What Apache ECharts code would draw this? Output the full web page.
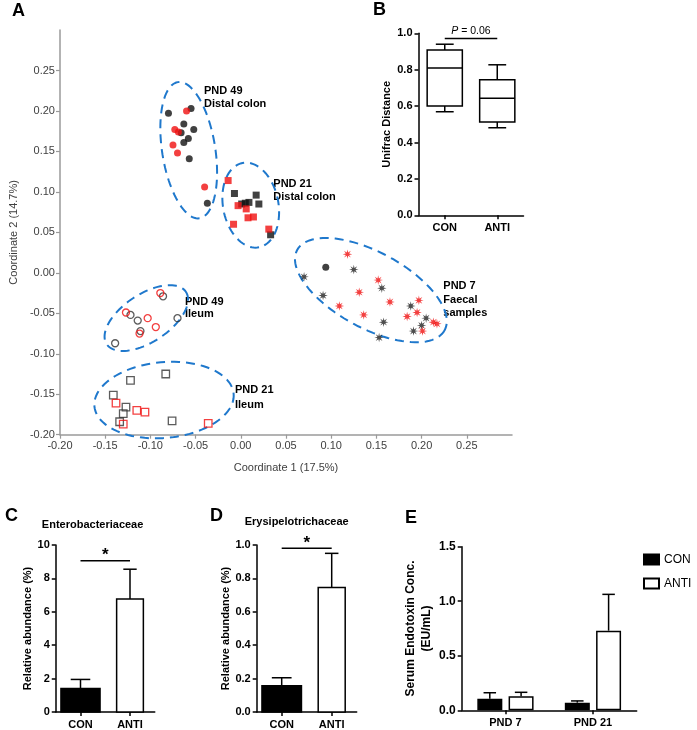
<!DOCTYPE html>
<html><head><meta charset="utf-8">
<script src="https://cdn.jsdelivr.net/npm/echarts@6/dist/echarts.min.js"></script>
<style>html,body{margin:0;padding:0;background:#fff}#c{width:697px;height:730px}</style>
</head><body><div id="c"></div>
<script>
// ---------- Panel A: PCoA coordinates [coord1, coord2] ----------
const pnd49ColonCon = [[-0.080,0.197],[-0.055,0.203],[-0.063,0.184],[-0.052,0.177],[-0.066,0.173],[-0.063,0.161],[-0.058,0.166],[-0.057,0.141],[-0.037,0.086]];
const pnd49ColonAnti = [[-0.060,0.200],[-0.073,0.177],[-0.069,0.174],[-0.075,0.158],[-0.070,0.148],[-0.040,0.106]];
const pnd21ColonCon = [[-0.007,0.098],[0.001,0.085],[0.005,0.086],[0.009,0.087],[0.017,0.096],[0.020,0.085],[0.033,0.047]];
const pnd21ColonAnti = [[-0.014,0.114],[-0.003,0.083],[0.006,0.079],[0.008,0.068],[0.014,0.069],[-0.008,0.060],[0.031,0.054]];
const pnd7Con = [[0.070,-0.005],[0.125,0.004],[0.156,-0.019],[0.091,-0.028],[0.158,-0.061],[0.188,-0.041],[0.205,-0.056],[0.200,-0.065],[0.191,-0.072],[0.153,-0.080]];
const pnd7ConDot = [[0.094,0.007]];
const pnd7Anti = [[0.118,0.023],[0.152,-0.009],[0.131,-0.024],[0.165,-0.036],[0.109,-0.041],[0.136,-0.052],[0.197,-0.034],[0.195,-0.049],[0.184,-0.054],[0.213,-0.061],[0.217,-0.063],[0.201,-0.072]];
const pnd49IleumCon = [[-0.086,-0.029],[-0.122,-0.052],[-0.114,-0.059],[-0.111,-0.072],[-0.070,-0.056],[-0.139,-0.087]];
const pnd49IleumAnti = [[-0.089,-0.025],[-0.127,-0.049],[-0.103,-0.056],[-0.094,-0.067],[-0.112,-0.075]];
const pnd21IleumCon = [[-0.083,-0.125],[-0.122,-0.133],[-0.141,-0.151],[-0.127,-0.166],[-0.130,-0.174],[-0.134,-0.184],[-0.076,-0.183]];
const pnd21IleumAnti = [[-0.138,-0.161],[-0.115,-0.170],[-0.106,-0.172],[-0.036,-0.186],[-0.130,-0.187]];
// cluster ellipses in data units: [centerX, centerY, u.x, u.y, v.x, v.y]
const clusterEllipses = [
  [-0.0576,0.1515, 0.0120,-0.0841, -0.0290,-0.0053],
  [0.0110,0.0836, 0.0092,-0.0521, -0.0300,-0.0068],
  [0.1439,-0.0214, 0.0817,-0.0493, -0.0194,-0.0415],
  [-0.1045,-0.0559, 0.0439,0.0322, 0.0143,-0.0248],
  [-0.0849,-0.1572, 0.0770,0.0077, 0.0036,-0.0467]
];
const clusterLabels = ['PND 49\nDistal colon','PND 21\nDistal colon','PND 7\nFaecal\nsamples','PND 49\nIleum','PND 21\nIleum'];

// ---------- Panel B: Unifrac distance box plots [min, Q1, median, Q3, max] ----------
const groups = ['CON','ANTI'];
const unifracCon = [0.569,0.600,0.809,0.908,0.940];
const unifracAnti = [0.481,0.513,0.643,0.745,0.827];

// ---------- Panel C / D: relative abundance mean and SEM ----------
const enteroMean = [1.41, 6.76];
const enteroSem = [0.54, 1.79];
const erysMean = [0.157, 0.745];
const erysSem = [0.048, 0.205];

// ---------- Panel E: serum endotoxin ----------
const days = ['PND 7','PND 21'];
const endoConMean = [0.106, 0.070];
const endoConSem = [0.055, 0.016];
const endoAntiMean = [0.128, 0.730];
const endoAntiSem = [0.037, 0.333];

// ---------- styles ----------
const FONT = 'Liberation Sans';
const RED = '#f01010', BLK = '#111111', BLUE = '#1f78cc';
function starPath(){
  let d='';
  for(let i=0;i<16;i++){
    const a=i*Math.PI/8-Math.PI/2, r=i%2===0?50:19;
    d+=(i===0?'M':'L')+(50+r*Math.cos(a)).toFixed(2)+' '+(50+r*Math.sin(a)).toFixed(2)+' ';
  }
  return 'path://'+d+'Z';
}
const STAR = starPath();
function sc(data, symbol, size, color, open){
  return {type:'scatter', xAxisIndex:0, yAxisIndex:0, data, symbol, symbolSize:size, silent:true, z:3,
    itemStyle: open ? {color:'rgba(255,255,255,0)', borderColor:color, borderWidth:1.3} : {color}};
}
const blackAxis = {lineStyle:{color:'#000', width:1.5}};
const boldLbl = {color:'#000', fontWeight:'bold', fontSize:11, fontFamily:FONT};

function valueAxisBold(idx, min, max, interval, dec, name, gap){
  return {type:'value', gridIndex:idx, min, max, interval, splitLine:{show:false},
    axisLine:{show:true, ...blackAxis}, axisTick:{show:true, length:4, lineStyle:{color:'#000', width:1.5}},
    axisLabel:{...boldLbl, margin:6, formatter:v=>v.toFixed(dec)},
    name, nameLocation:'middle', nameRotate:90, nameGap:gap,
    nameTextStyle:{color:'#000', fontWeight:'bold', fontSize:11, fontFamily:FONT}};
}
function catAxis(idx, data){
  return {type:'category', gridIndex:idx, data, axisLine:{show:true, ...blackAxis},
    axisTick:{show:true, alignWithLabel:true, length:4, lineStyle:{color:'#000', width:1.5}},
    axisLabel:{...boldLbl, margin:7}};
}

// custom bars with error for C and D
const barFrac = [0.79, 0.54];
function barsSeries(idx, means, sems){
  return {type:'custom', xAxisIndex:idx, yAxisIndex:idx, silent:true, z:3,
    data: means.map((m,i)=>[i, m, sems[i]]),
    renderItem:(params, api)=>{
      const i=api.value(0), m=api.value(1), s=api.value(2);
      const band=api.size([1,0])[0];
      const w=band*barFrac[i];
      const top=api.coord([i,m]), base=api.coord([i,0]), err=api.coord([i,m+s]);
      const cx=top[0], cw=w*0.5;
      return {type:'group', children:[
        {type:'line', shape:{x1:cx,y1:top[1],x2:cx,y2:err[1]}, style:{stroke:'#000',lineWidth:1.5}},
        {type:'line', shape:{x1:cx-cw/2,y1:err[1],x2:cx+cw/2,y2:err[1]}, style:{stroke:'#000',lineWidth:1.5}},
        {type:'rect', shape:{x:cx-w/2,y:top[1],width:w,height:base[1]-top[1]},
          style:{fill:i===0?'#000':'#fff', stroke:'#000', lineWidth:1.5}}
      ]};
    }};
}
function sigSeries(idx, level, text, rich){
  return {type:'custom', xAxisIndex:idx, yAxisIndex:idx, silent:true, z:4,
    data:[[0,1,level]],
    renderItem:(params, api)=>{
      const a=api.coord([api.value(0), api.value(2)]), b=api.coord([api.value(1), api.value(2)]);
      const mid=(a[0]+b[0])/2;
      return {type:'group', children:[
        {type:'line', shape:{x1:a[0],y1:a[1],x2:b[0],y2:b[1]}, style:{stroke:'#000',lineWidth:1.5}},
        {type:'text', x:mid, y:a[1]-(rich?2:-3), style: rich ?
          {text, rich:{i:{fontStyle:'italic', fontSize:10.5, fontFamily:FONT, fill:'#000'}}, fontSize:10.5, fontFamily:FONT, fill:'#000', align:'center', verticalAlign:'bottom'} :
          {text, font:'bold 17px '+FONT, fill:'#000', align:'center', verticalAlign:'bottom'}}
      ]};
    }};
}
// E error bars
const eBarWidth = 25, eBarGapPx = 6.3;
function errE(means, sems, sign){
  return {type:'custom', xAxisIndex:4, yAxisIndex:4, silent:true, z:1,
    data: means.map((m,i)=>[i,m,sems[i]]),
    renderItem:(params, api)=>{
      const i=api.value(0), m=api.value(1), s=api.value(2);
      const top=api.coord([i,m]), err=api.coord([i,m+s]);
      const cx=top[0]+sign*(eBarWidth+eBarGapPx)/2, cw=eBarWidth*0.5;
      return {type:'group', children:[
        {type:'line', shape:{x1:cx,y1:top[1],x2:cx,y2:err[1]}, style:{stroke:'#000',lineWidth:1.5}},
        {type:'line', shape:{x1:cx-cw/2,y1:err[1],x2:cx+cw/2,y2:err[1]}, style:{stroke:'#000',lineWidth:1.5}}
      ]};
    }};
}

const labelPos = [[204,84],[273.3,177],[443.3,279.5],[185,295.5],[235,382]];
const labelLH = [13,13,13.5,12,15];
const graphics = [];
clusterLabels.forEach((t,i)=>{
  graphics.push({type:'text', x:labelPos[i][0], y:labelPos[i][1],
    style:{text:t, font:'bold 11px '+FONT, lineHeight:labelLH[i], fill:'#000', align:'left', verticalAlign:'top', textAlign:'left', textVerticalAlign:'top'}});
});
[['A',12,11],['B',373,10],['C',5,516.5],['D',210,516.5],['E',405,518.5]].forEach(([t,x,y])=>{
  graphics.push({type:'text', x, y, style:{text:t, font:'bold 18px '+FONT, fill:'#000', align:'left', verticalAlign:'middle', textAlign:'left', textVerticalAlign:'middle'}});
});
[['Enterobacteriaceae',92.6,525],['Erysipelotrichaceae',296.7,521.7]].forEach(([t,x,y])=>{
  graphics.push({type:'text', x, y, style:{text:t, font:'bold 11px '+FONT, fill:'#000', align:'center', verticalAlign:'middle', textAlign:'center', textVerticalAlign:'middle'}});
});

const grayAxis = {lineStyle:{color:'#9a9a9a', width:1.5}};
const grayLbl = {color:'#404040', fontSize:11, fontFamily:FONT};

const option = {
  animation:false,
  textStyle:{fontFamily:FONT},
  grid:[
    {left:52.3, top:30, width:459.7, height:404.7},
    {left:418.5, top:33.3, width:105, height:182},
    {left:55.75, top:545, width:99, height:167.7},
    {left:256.7, top:545, width:100, height:167.3},
    {left:461.7, top:546.7, width:175, height:163.6}
  ],
  xAxis:[
    {type:'value', gridIndex:0, min:-0.2, max:0.3, interval:0.05, splitLine:{show:false},
     axisLine:{show:true, onZero:false, ...grayAxis}, axisTick:{show:true, length:4, lineStyle:{color:'#9a9a9a', width:1.2}},
     axisLabel:{...grayLbl, margin:6, showMaxLabel:false, formatter:v=>v.toFixed(2)},
     name:'Coordinate 1 (17.5%)', nameLocation:'middle', nameGap:28, nameTextStyle:{...grayLbl}},
    catAxis(1, groups),
    catAxis(2, groups),
    catAxis(3, groups),
    catAxis(4, days)
  ],
  yAxis:[
    {type:'value', gridIndex:0, min:-0.2, max:0.3, interval:0.05, splitLine:{show:false},
     axisLine:{show:true, onZero:false, ...grayAxis}, axisTick:{show:true, length:4, lineStyle:{color:'#9a9a9a', width:1.2}},
     axisLabel:{...grayLbl, margin:5, showMaxLabel:false, formatter:v=>v.toFixed(2)},
     name:'Coordinate 2 (14.7%)', nameLocation:'middle', nameRotate:90, nameGap:38, nameTextStyle:{...grayLbl}},
    valueAxisBold(1, 0, 1, 0.2, 1, 'Unifrac Distance', 26),
    valueAxisBold(2, 0, 10, 2, 0, 'Relative abundance (%)', 22),
    valueAxisBold(3, 0, 1, 0.2, 1, 'Relative abundance (%)', 22),
    Object.assign(valueAxisBold(4, 0, 1.5, 0.5, 1, 'Serum Endotoxin Conc.\n(EU/mL)', 24),
      {nameTextStyle:{color:'#000', fontWeight:'bold', fontSize:12, fontFamily:FONT, lineHeight:16.5}, axisLabel:{...boldLbl, fontSize:12, margin:6, formatter:v=>v.toFixed(1)}})
  ],
  legend:{show:true, left:638, top:548.5, orient:'vertical', itemWidth:15, itemHeight:10, itemGap:12, selectedMode:false,
    icon:'rect', data:['CON','ANTI'], textStyle:{fontSize:12, color:'#000', fontFamily:FONT}},
  graphic: graphics,
  series:[
    {type:'custom', xAxisIndex:0, yAxisIndex:0, silent:true, z:2, data:clusterEllipses,
     renderItem:(params, api)=>{
       const c=[0,1,2,3,4,5].map(k=>api.value(k));
       const pts=[];
       for(let k=0;k<=96;k++){
         const t=k/96*Math.PI*2;
         pts.push(api.coord([c[0]+c[2]*Math.cos(t)+c[4]*Math.sin(t), c[1]+c[3]*Math.cos(t)+c[5]*Math.sin(t)]));
       }
       return {type:'polyline', shape:{points:pts}, style:{fill:null, stroke:BLUE, lineWidth:2, lineDash:[9,6]}};
     }},
    sc(pnd49ColonCon,'circle',7,BLK,false),
    sc(pnd49ColonAnti,'circle',7,RED,false),
    sc(pnd21ColonCon,'rect',7,BLK,false),
    sc(pnd21ColonAnti,'rect',7,RED,false),
    sc(pnd7Con,STAR,9.5,'#222',false),
    sc(pnd7ConDot,'circle',7,BLK,false),
    sc(pnd7Anti,STAR,9.5,RED,false),
    sc(pnd49IleumCon,'circle',7,'#333',true),
    sc(pnd49IleumAnti,'circle',7,RED,true),
    sc(pnd21IleumCon,'rect',7.5,'#333',true),
    sc(pnd21IleumAnti,'rect',7.5,RED,true),
    {type:'custom', xAxisIndex:1, yAxisIndex:1, silent:true, z:3,
     data:[[0,...unifracCon],[1,...unifracAnti]],
     renderItem:(params, api)=>{
       const i=api.value(0); const p=[1,2,3,4,5].map(k=>api.coord([i, api.value(k)]));
       const band=api.size([1,0])[0]; const bw=band*0.67, cw=band*0.34; const cx=p[0][0];
       const st={stroke:'#000', lineWidth:1.5};
       return {type:'group', children:[
         {type:'line', shape:{x1:cx,y1:p[4][1],x2:cx,y2:p[3][1]}, style:st},
         {type:'line', shape:{x1:cx,y1:p[1][1],x2:cx,y2:p[0][1]}, style:st},
         {type:'line', shape:{x1:cx-cw/2,y1:p[4][1],x2:cx+cw/2,y2:p[4][1]}, style:st},
         {type:'line', shape:{x1:cx-cw/2,y1:p[0][1],x2:cx+cw/2,y2:p[0][1]}, style:st},
         {type:'rect', shape:{x:cx-bw/2,y:p[3][1],width:bw,height:p[1][1]-p[3][1]}, style:{stroke:'#000',lineWidth:1.5,fill:'#fff'}},
         {type:'line', shape:{x1:cx-bw/2,y1:p[2][1],x2:cx+bw/2,y2:p[2][1]}, style:st}
       ]};
     }},
    sigSeries(1, 0.972, '{i|P} = 0.06', true),
    barsSeries(2, enteroMean, enteroSem),
    sigSeries(2, 9.05, '*', false),
    barsSeries(3, erysMean, erysSem),
    sigSeries(3, 0.98, '*', false),
    {type:'bar', name:'CON', xAxisIndex:4, yAxisIndex:4, data:endoConMean, barWidth:eBarWidth, barGap:'25%', z:3,
     itemStyle:{color:'#000', borderColor:'#000', borderWidth:1.5}},
    {type:'bar', name:'ANTI', xAxisIndex:4, yAxisIndex:4, data:endoAntiMean, barWidth:eBarWidth, barGap:'25%', z:3,
     itemStyle:{color:'#fff', borderColor:'#000', borderWidth:1.5}},
    errE(endoConMean, endoConSem, -1),
    errE(endoAntiMean, endoAntiSem, 1)
  ]
};
const chart = echarts.init(document.getElementById('c'));
chart.setOption(option);
</script></body></html>
